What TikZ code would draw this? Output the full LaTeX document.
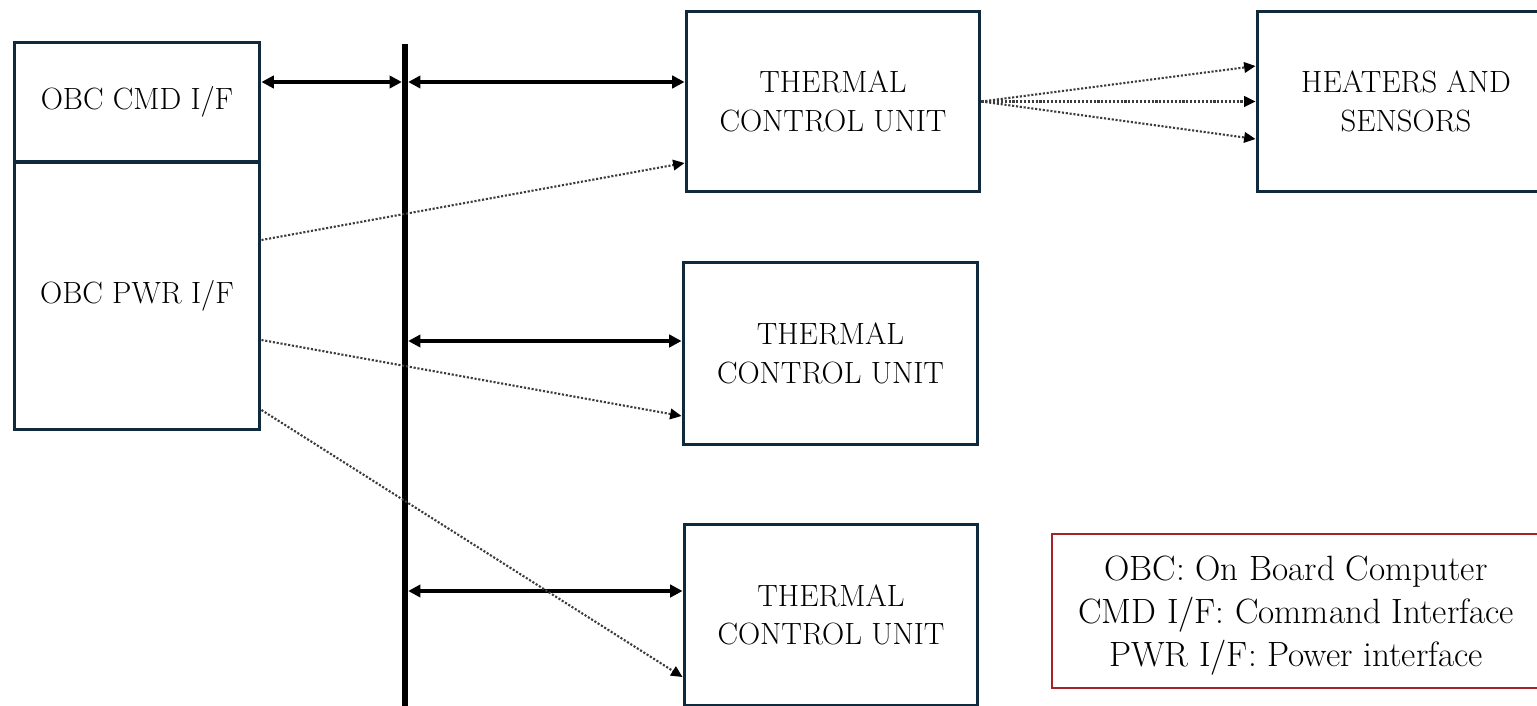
\documentclass[tikz,border=0pt]{standalone}
\usetikzlibrary{arrows.meta,calc}
\definecolor{navy}{RGB}{14,42,60}
\definecolor{legred}{RGB}{165,35,40}
\definecolor{dotgray}{RGB}{60,60,60}
\begin{document}
\begin{tikzpicture}[x=0.02cm,y=-0.02cm,
  box/.style={draw=navy,line width=1.7pt,fill=white,align=center,font=\fontsize{17.5}{22}\selectfont,inner sep=0pt},
  dbl/.style={{Triangle[length=7pt,width=7pt]}-{Triangle[length=7pt,width=7pt]},line width=2pt,black},
  pwrline/.style={-{Triangle[length=6.5pt,width=6pt,black]},densely dotted,line width=1.2pt,dotgray},
  busline/.style={line width=3.4pt,black}]
\useasboundingbox (0,0) rectangle (1537,706);
\clip (0,0) rectangle (1537,706);
% OBC
\node[box,minimum width=4.92cm,minimum height=2.4cm] (cmd) at (137,102) {OBC CMD I/F};
\node[box,minimum width=4.92cm,minimum height=5.36cm] (pwr) at (137,296) {OBC PWR I/F};
% TCUs
\node[box,minimum width=5.88cm,minimum height=3.62cm] (tcu1) at (833,101.5) {THERMAL\\CONTROL UNIT};
\node[box,minimum width=5.9cm,minimum height=3.66cm] (tcu2) at (830.5,353.5) {THERMAL\\CONTROL UNIT};
\node[box,minimum width=5.88cm,minimum height=3.64cm] (tcu3) at (831,615) {THERMAL\\CONTROL UNIT};
\node[box,minimum width=5.96cm,minimum height=3.62cm] (heat) at (1406,101.5) {HEATERS AND\\SENSORS};
% legend
\node[draw=legred,line width=1.1pt,fill=white,minimum width=9.76cm,minimum height=3.08cm,align=center,
  font=\fontsize{20}{24.4}\selectfont] (legend) at (1296,611) {\rule{0pt}{19.5pt}OBC: On Board Computer\\CMD I/F: Command Interface\\PWR I/F: Power interface};
% bus
\coordinate (btop) at (405,44);
\coordinate (bbot) at (405,720);
\draw[busline] (btop) -- (bbot);
\coordinate (b1) at (405,82);
\coordinate (b2) at (405,341);
\coordinate (b3) at (405,591);
% command arrows
\draw[dbl,shorten >=1.8pt] (cmd.east |- b1) -- (b1);
\draw[dbl,shorten <=1.8pt] (b1) -- (tcu1.west |- b1);
\draw[dbl,shorten <=1.8pt] (b2) -- (tcu2.west |- b2);
\draw[dbl,shorten <=1.8pt] (b3) -- (tcu3.west |- b3);
% power lines
\draw[pwrline] (pwr.east |- 0,240) -- (tcu1.west |- 0,163);
\draw[pwrline] (pwr.east |- 0,340) -- (tcu2.west |- 0,416);
\draw[pwrline] (pwr.east |- 0,410) -- (tcu3.west |- 0,677);
% heater lines
\draw[pwrline] (tcu1.east) -- (heat.west |- 0,66);
\draw[pwrline] (tcu1.east) -- (heat.west);
\draw[pwrline] (tcu1.east) -- (heat.west |- 0,139);
\end{tikzpicture}
\end{document}
